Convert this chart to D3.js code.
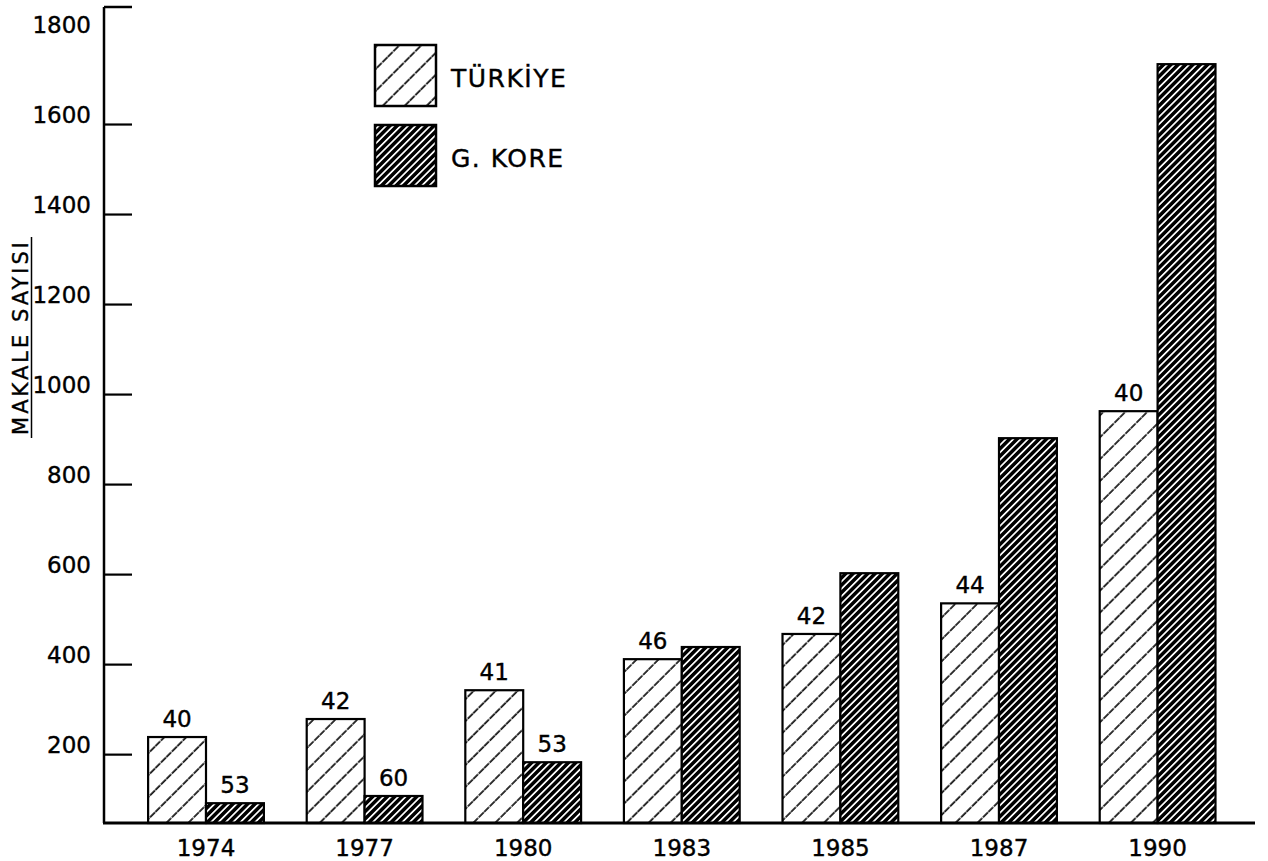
<!DOCTYPE html>
<html>
<head>
<meta charset="utf-8">
<script src="https://cdn.jsdelivr.net/npm/d3@7"></script>
<style>
  body { margin: 0; background: #fff; }
  text { font-family: "DejaVu Sans", sans-serif; fill: #000; stroke: #000; stroke-width: 0.4px; }
</style>
</head>
<body>
<div id="canvas"></div>
<script>
"use strict"

/* Data */
let years = ["1974", "1977", "1980", "1983", "1985", "1987", "1990"];
let turkiyeValues = [238, 278, 342, 411, 467, 535, 962];
let koreaValues = [91, 107, 182, 438, 602, 902, 1733];
// numbers printed above the bars (null = no label)
let turkiyeLabels = ["40", "42", "41", "46", "42", "44", "40"];
let koreaLabels = ["53", "60", "53", null, null, "40", "33"];
let yTicks = [200, 400, 600, 800, 1000, 1200, 1400, 1600, 1800];
let seriesNames = ["TÜRKİYE", "G. KORE"];

/* Drawing config */
let svgWidth = 1268;
let svgHeight = 861;
let axisX = 104;
let baseY = 823;
let topY = 7;
let fontSize = 23;

let svg = d3.select("#canvas")
    .append("svg")
    .attr("width", svgWidth)
    .attr("height", svgHeight);

/* hatch patterns */
let defs = svg.append("defs");

let lightHatch = defs.append("pattern")
    .attr("id", "hatchLight")
    .attr("patternUnits", "userSpaceOnUse")
    .attr("width", 15.5)
    .attr("height", 15.5)
    .attr("patternTransform", "rotate(45)");
lightHatch.append("rect")
    .attr("width", 15.5).attr("height", 15.5).attr("fill", "#fff");
lightHatch.append("line")
    .attr("x1", 2).attr("x2", 2).attr("y1", 0).attr("y2", 15.5)
    .attr("stroke", "#000").attr("stroke-width", 1.6)
    .attr("stroke-dasharray", "7 1");

let darkHatch = defs.append("pattern")
    .attr("id", "hatchDark")
    .attr("patternUnits", "userSpaceOnUse")
    .attr("width", 5.2)
    .attr("height", 5.2)
    .attr("patternTransform", "rotate(45)");
darkHatch.append("rect")
    .attr("width", 5.2).attr("height", 5.2).attr("fill", "#000");
darkHatch.append("line")
    .attr("x1", 2.6).attr("x2", 2.6).attr("y1", 0).attr("y2", 5.2)
    .attr("stroke", "#fff").attr("stroke-width", 1.7);

let fills = ["url(#hatchLight)", "url(#hatchDark)"];

/* Scales: baseline of the chart is not at zero in the original */
let yScale = d3.scaleLinear()
    .domain([47, 1860])
    .range([baseY, topY]);

let xScale = d3.scaleBand()
    .domain(years)
    .range([126.7, 1236.9])
    .paddingInner(0.27)
    .paddingOuter(0.135);

let xInner = d3.scaleBand()
    .domain([0, 1])
    .range([0, xScale.bandwidth()]);

/* bars */
let seriesValues = [turkiyeValues, koreaValues];
let seriesLabels = [turkiyeLabels, koreaLabels];

seriesValues.forEach(function (values, s) {
    let g = svg.append("g");
    g.selectAll("rect")
        .data(values)
        .join("rect")
        .attr("x", function (d, i) { return xScale(years[i]) + xInner(s); })
        .attr("y", function (d) { return yScale(d); })
        .attr("width", xInner.bandwidth())
        .attr("height", function (d) { return baseY - yScale(d); })
        .attr("fill", fills[s])
        .attr("stroke", "#000")
        .attr("stroke-width", 2.2);

    g.selectAll("text")
        .data(values)
        .join("text")
        .filter(function (d, i) { return seriesLabels[s][i] !== null; })
        .attr("x", function (d, i) { return xScale(years[i]) + xInner(s) + xInner.bandwidth() / 2; })
        .attr("y", function (d) { return yScale(d) - 10; })
        .attr("text-anchor", "middle")
        .attr("font-size", fontSize)
        .text(function (d, i) { return seriesLabels[s][i]; });
});

/* y axis: ticks point inwards, labels sit a little above the tick */
let yAxis = d3.axisLeft(yScale)
    .tickValues(yTicks)
    .tickFormat(d3.format("d"))
    .tickSize(-28)
    .tickPadding(13)
    .tickSizeOuter(0);

let yAxisG = svg.append("g")
    .attr("transform", "translate(" + axisX + ",0)")
    .call(yAxis);
yAxisG.select(".domain").remove();
yAxisG.selectAll(".tick line")
    .attr("stroke", "#000")
    .attr("stroke-width", 2.2)
    .filter(function (d) { return d === 1800; })
    .remove();
yAxisG.selectAll(".tick text")
    .attr("font-size", fontSize)
    .attr("font-family", "DejaVu Sans")
    .attr("dy", "-0.05em");

// axis line and top cap
svg.append("line")
    .attr("x1", axisX).attr("x2", axisX)
    .attr("y1", topY).attr("y2", baseY)
    .attr("stroke", "#000").attr("stroke-width", 2.5);
svg.append("line")
    .attr("x1", axisX).attr("x2", axisX + 28)
    .attr("y1", topY).attr("y2", topY)
    .attr("stroke", "#000").attr("stroke-width", 2.5);

/* x axis */
let xAxis = d3.axisBottom(xScale)
    .tickSize(0)
    .tickPadding(17)
    .tickSizeOuter(0);
let xAxisG = svg.append("g")
    .attr("transform", "translate(0," + baseY + ")")
    .call(xAxis);
xAxisG.select(".domain").remove();
xAxisG.selectAll(".tick text")
    .attr("font-size", fontSize)
    .attr("font-family", "DejaVu Sans");

svg.append("line")
    .attr("x1", axisX - 1).attr("x2", 1255)
    .attr("y1", baseY).attr("y2", baseY)
    .attr("stroke", "#000").attr("stroke-width", 2.8);

/* y axis title, underlined */
svg.append("text")
    .attr("transform", "translate(28,337) rotate(-90)")
    .attr("text-anchor", "middle")
    .attr("font-size", 21)
    .attr("letter-spacing", 3)
    .text("MAKALE SAYISI");
svg.append("line")
    .attr("x1", 31.5).attr("x2", 31.5)
    .attr("y1", 237).attr("y2", 438)
    .attr("stroke", "#000").attr("stroke-width", 1.5);

/* legend */
let legend = svg.append("g")
    .attr("transform", "translate(375,45)");
legend.selectAll("rect")
    .data(seriesNames)
    .join("rect")
    .attr("x", 0)
    .attr("y", function (d, i) { return i * 80; })
    .attr("width", 61)
    .attr("height", 61)
    .attr("fill", function (d, i) { return fills[i]; })
    .attr("stroke", "#000")
    .attr("stroke-width", 2.5);
legend.selectAll("text")
    .data(seriesNames)
    .join("text")
    .attr("x", 76)
    .attr("y", function (d, i) { return i * 80 + 42; })
    .attr("font-size", 25)
    .attr("letter-spacing", 1.5)
    .text(function (d) { return d; });
</script>
</body>
</html>
